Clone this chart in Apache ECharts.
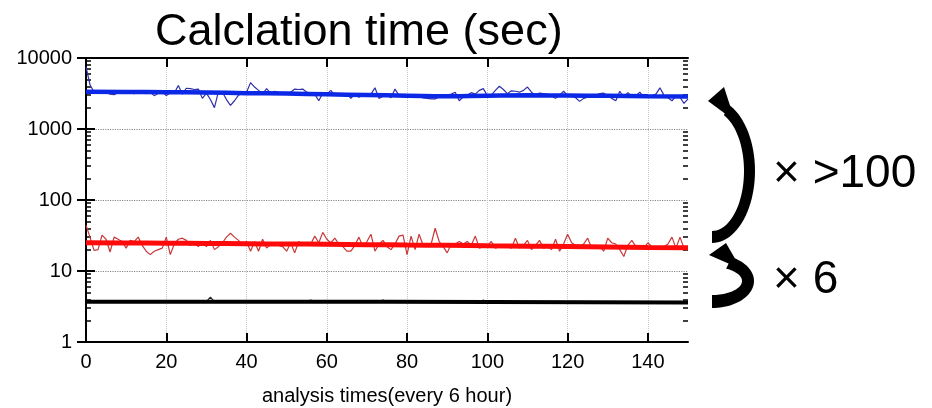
<!DOCTYPE html>
<html>
<head>
<meta charset="utf-8">
<script src="https://cdn.jsdelivr.net/npm/echarts@6/dist/echarts.min.js"></script>
<style>
  html, body { margin: 0; padding: 0; background: #fff; }
  #chart { width: 932px; height: 408px; }
</style>
</head>
<body>
<div id="chart"></div>
<script>
// 读图估计的数据
const xTicks = [0, 20, 40, 60, 80, 100, 120, 140]
const yTicks = [1, 10, 100, 1000, 10000]
const yMinorTicks = [2, 3, 4, 5, 6, 7, 8, 9, 20, 30, 40, 50, 60, 70, 80, 90,
  200, 300, 400, 500, 600, 700, 800, 900, 2000, 3000, 4000, 5000, 6000, 7000, 8000, 9000]

// 蓝色细线 (x = 0..150)
const blueValues = [
  7500, 4200, 3300, 3350, 3300, 3280, 3100, 3050, 3250, 3300,
  3200, 3250, 3150, 3300, 3200, 3150, 3300, 2950, 3200, 3350,
  2950, 3250, 3200, 4100, 3100, 3750, 3700, 3600, 3650, 2700,
  3200, 2600, 2000, 3350, 3300, 2600, 2150, 2500, 3000, 3200,
  3300, 4500, 3900, 3500, 3100, 3700, 3200, 3400, 3250, 3200,
  3150, 3300, 3650, 3600, 3650, 3300, 3200, 3100, 2500, 3200,
  3100, 3500, 3000, 3100, 3050, 3100, 2700, 3100, 2800, 3000,
  2900, 3100, 3800, 2700, 2900, 3000, 2750, 3650, 2950, 2850,
  2900, 2850, 2800, 2850, 2750, 2700, 2650, 2650, 2850, 2800,
  3000, 3100, 3300, 2500, 2850, 3000, 3250, 3100, 3500, 3700,
  2950, 3000, 3500, 4000, 3600, 3150, 3450, 3400, 3300, 3500,
  3900, 3300, 3000, 3200, 3150, 3100, 2950, 2700, 3000, 3400,
  2950, 2900, 2750, 2450, 2700, 2800, 2950, 3000, 3150, 3200,
  2950, 2700, 2500, 3400, 2800, 3250, 2900, 2950, 3300, 2800,
  2900, 2950, 3100, 3800, 3000, 2750, 2500, 2900, 2800, 2300,
  2650
]
// 红色细线
const redValues = [
  44, 30, 19.5, 20, 32, 28, 18.5, 30, 28, 26,
  21, 27, 26, 30, 23, 19, 17, 19, 20, 21,
  30, 17, 24, 28, 29, 27, 23, 25, 22, 26,
  22, 27, 20, 22, 25, 30, 34, 30, 27, 23,
  26, 19, 26, 19, 28, 21, 24, 24, 23, 22,
  19, 25, 18, 26, 23, 24, 24, 31, 25, 35,
  28, 25, 29, 24, 22, 19, 19, 23, 30, 22,
  26, 33, 19, 24, 27, 22, 20, 24, 31, 32,
  17, 31, 20, 33, 23, 23, 24, 40, 26, 22,
  18, 24, 24, 26, 24, 26, 23, 31, 21, 22,
  23, 26, 21, 22, 23, 22, 21, 29, 21, 23,
  27, 20, 23, 27, 21, 22, 20, 28, 19, 24,
  33, 25, 23, 22, 24, 29, 21, 23, 22, 19,
  29, 25, 24, 20, 16, 23, 27, 22, 22, 21,
  25, 22, 22, 20, 22, 24, 30, 21, 30, 21,
  20
]
// 黑色细线 (稀疏点)
const blackX = [0, 30, 31, 32, 55, 56, 57, 73, 74, 75, 76, 98, 99, 100, 150]
const blackY = [3.7, 3.7, 4.3, 3.7, 3.7, 3.9, 3.7, 3.7, 3.9, 3.7, 3.6, 3.6, 3.9, 3.6, 3.6]

// 粗趋势线
const trendX = [0, 10, 20, 30, 40, 50, 60, 70, 80, 90, 100, 110, 120, 130, 140, 150]
const blueTrend = [3350, 3330, 3300, 3260, 3200, 3150, 3080, 3010, 2950, 2900, 2950, 2980, 2960, 2930, 2900, 2880]
const redTrend = [25, 24.8, 24.6, 24.4, 24.2, 24, 23.8, 23.5, 23.2, 23, 22.7, 22.4, 22.1, 21.8, 21.5, 21.3]
const blackTrendX = [0, 76, 76, 150]
const blackTrend = [3.7, 3.7, 3.6, 3.6]

const idx = (arr) => arr.map((v, i) => [i, v])
const zip = (xs, ys) => xs.map((x, i) => [x, ys[i]])

// 弧形箭头: 外椭圆弧 + 内椭圆弧 围成的月牙形
const arc = (cx, cy, a, b, t0, t1, n) => {
  const pts = []
  for (let i = 0; i <= n; i++) {
    const t = (t0 + (t1 - t0) * i / n) * Math.PI / 180
    pts.push([cx + a * Math.cos(t), cy - b * Math.sin(t)])
  }
  return pts
}
const crescent = (cx, cy, ao, bo, ai, bi, top) =>
  arc(cx, cy, ao, bo, -90, top, 40).concat(arc(cx, cy, ai, bi, top, -90, 40))

const FONT = 'Liberation Sans'
const chart = echarts.init(document.getElementById('chart'))

const logAxis = (extra) => Object.assign({
  type: 'log', logBase: 10, min: 1, max: 10000,
  axisLabel: { show: false },
  splitLine: { show: false },
  axisLine: { show: false },
  axisTick: { show: false }
}, extra)

chart.setOption({
  animation: false,
  title: {
    text: 'Calclation time (sec)',
    left: 150, top: 5,
    textStyle: { fontFamily: FONT, fontSize: 45, fontWeight: 'normal', color: '#000' }
  },
  grid: { left: 86, right: 244, top: 58, bottom: 66, outerBoundsMode: 'none' },
  xAxis: [
    {
      type: 'value', min: 0, max: 150,
      name: 'analysis times(every 6 hour)',
      nameLocation: 'middle', nameGap: 44,
      nameTextStyle: { fontFamily: FONT, fontSize: 20, color: '#000' },
      axisLine: { lineStyle: { color: '#000', width: 2 } },
      axisTick: { inside: true, length: 9, customValues: xTicks, lineStyle: { color: '#000', width: 2 } },
      axisLabel: { customValues: xTicks, margin: 10, fontFamily: FONT, fontSize: 20, color: '#000' },
      splitLine: { show: true, lineStyle: { color: '#c8c8c8', type: 'dotted', width: 1 } }
    },
    {
      type: 'value', min: 0, max: 150, position: 'top',
      axisLine: { lineStyle: { color: '#000', width: 2 } },
      axisTick: { inside: true, length: 9, customValues: xTicks, lineStyle: { color: '#000', width: 2 } },
      axisLabel: { show: false },
      splitLine: { show: false }
    }
  ],
  yAxis: [
    logAxis({
      position: 'left',
      axisLine: { show: true, lineStyle: { color: '#000', width: 2 } },
      axisTick: { show: true, inside: true, length: 9, customValues: yTicks, lineStyle: { color: '#000', width: 2 } },
      axisLabel: {
        show: true, customValues: yTicks, margin: 14, fontFamily: FONT, fontSize: 20, color: '#000',
        formatter: (v) => String(v)
      },
      splitLine: { show: true, lineStyle: { color: '#888', type: 'dotted', width: 1.2 } }
    }),
    logAxis({
      position: 'right',
      axisLine: { show: true, lineStyle: { color: '#000', width: 2 } },
      axisTick: { show: true, inside: true, length: 9, customValues: yTicks, lineStyle: { color: '#000', width: 2 } }
    }),
    logAxis({
      position: 'left',
      axisTick: { show: true, inside: true, length: 5, customValues: yMinorTicks, lineStyle: { color: '#000', width: 1.5 } }
    }),
    logAxis({
      position: 'right',
      axisTick: { show: true, inside: true, length: 5, customValues: yMinorTicks, lineStyle: { color: '#000', width: 1.5 } }
    })
  ],
  series: [
    {
      name: 'blue', type: 'line', data: idx(blueValues), showSymbol: false,
      lineStyle: { color: '#3030a8', width: 1.2 }, z: 2
    },
    {
      name: 'blueTrend', type: 'line', data: zip(trendX, blueTrend), showSymbol: false, smooth: true,
      lineStyle: { color: '#0a28e6', width: 4.5 }, z: 3
    },
    {
      name: 'red', type: 'line', data: idx(redValues), showSymbol: false,
      lineStyle: { color: '#c83838', width: 1.2 }, z: 2
    },
    {
      name: 'redTrend', type: 'line', data: zip(trendX, redTrend), showSymbol: false, smooth: true,
      lineStyle: { color: '#ff0a0a', width: 5 }, z: 3
    },
    {
      name: 'black', type: 'line', data: zip(blackX, blackY), showSymbol: false,
      lineStyle: { color: '#222', width: 1.2 }, z: 2
    },
    {
      name: 'blackTrend', type: 'line', data: zip(blackTrendX, blackTrend), showSymbol: false,
      lineStyle: { color: '#000', width: 4 }, z: 3
    }
  ],
  graphic: [
    // 大弧形箭头
    {
      type: 'polygon',
      shape: { points: crescent(712, 171, 43, 72, 32, 60, 68) },
      style: { fill: '#000' }
    },
    {
      type: 'polygon',
      shape: { points: [[708, 101], [724, 87], [735, 121]] },
      style: { fill: '#000' }
    },
    // 小弧形箭头
    {
      type: 'polygon',
      shape: { points: crescent(712, 281, 42, 27, 30, 14, 62) },
      style: { fill: '#000' }
    },
    {
      type: 'polygon',
      shape: { points: [[709, 255], [726, 243], [741, 269]] },
      style: { fill: '#000' }
    },
    {
      type: 'text', left: 773, top: 151,
      style: { text: '× >100', fontFamily: FONT, fontSize: 46, fill: '#000' }
    },
    {
      type: 'text', left: 773, top: 257,
      style: { text: '× 6', fontFamily: FONT, fontSize: 46, fill: '#000' }
    }
  ]
})
</script>
</body>
</html>
